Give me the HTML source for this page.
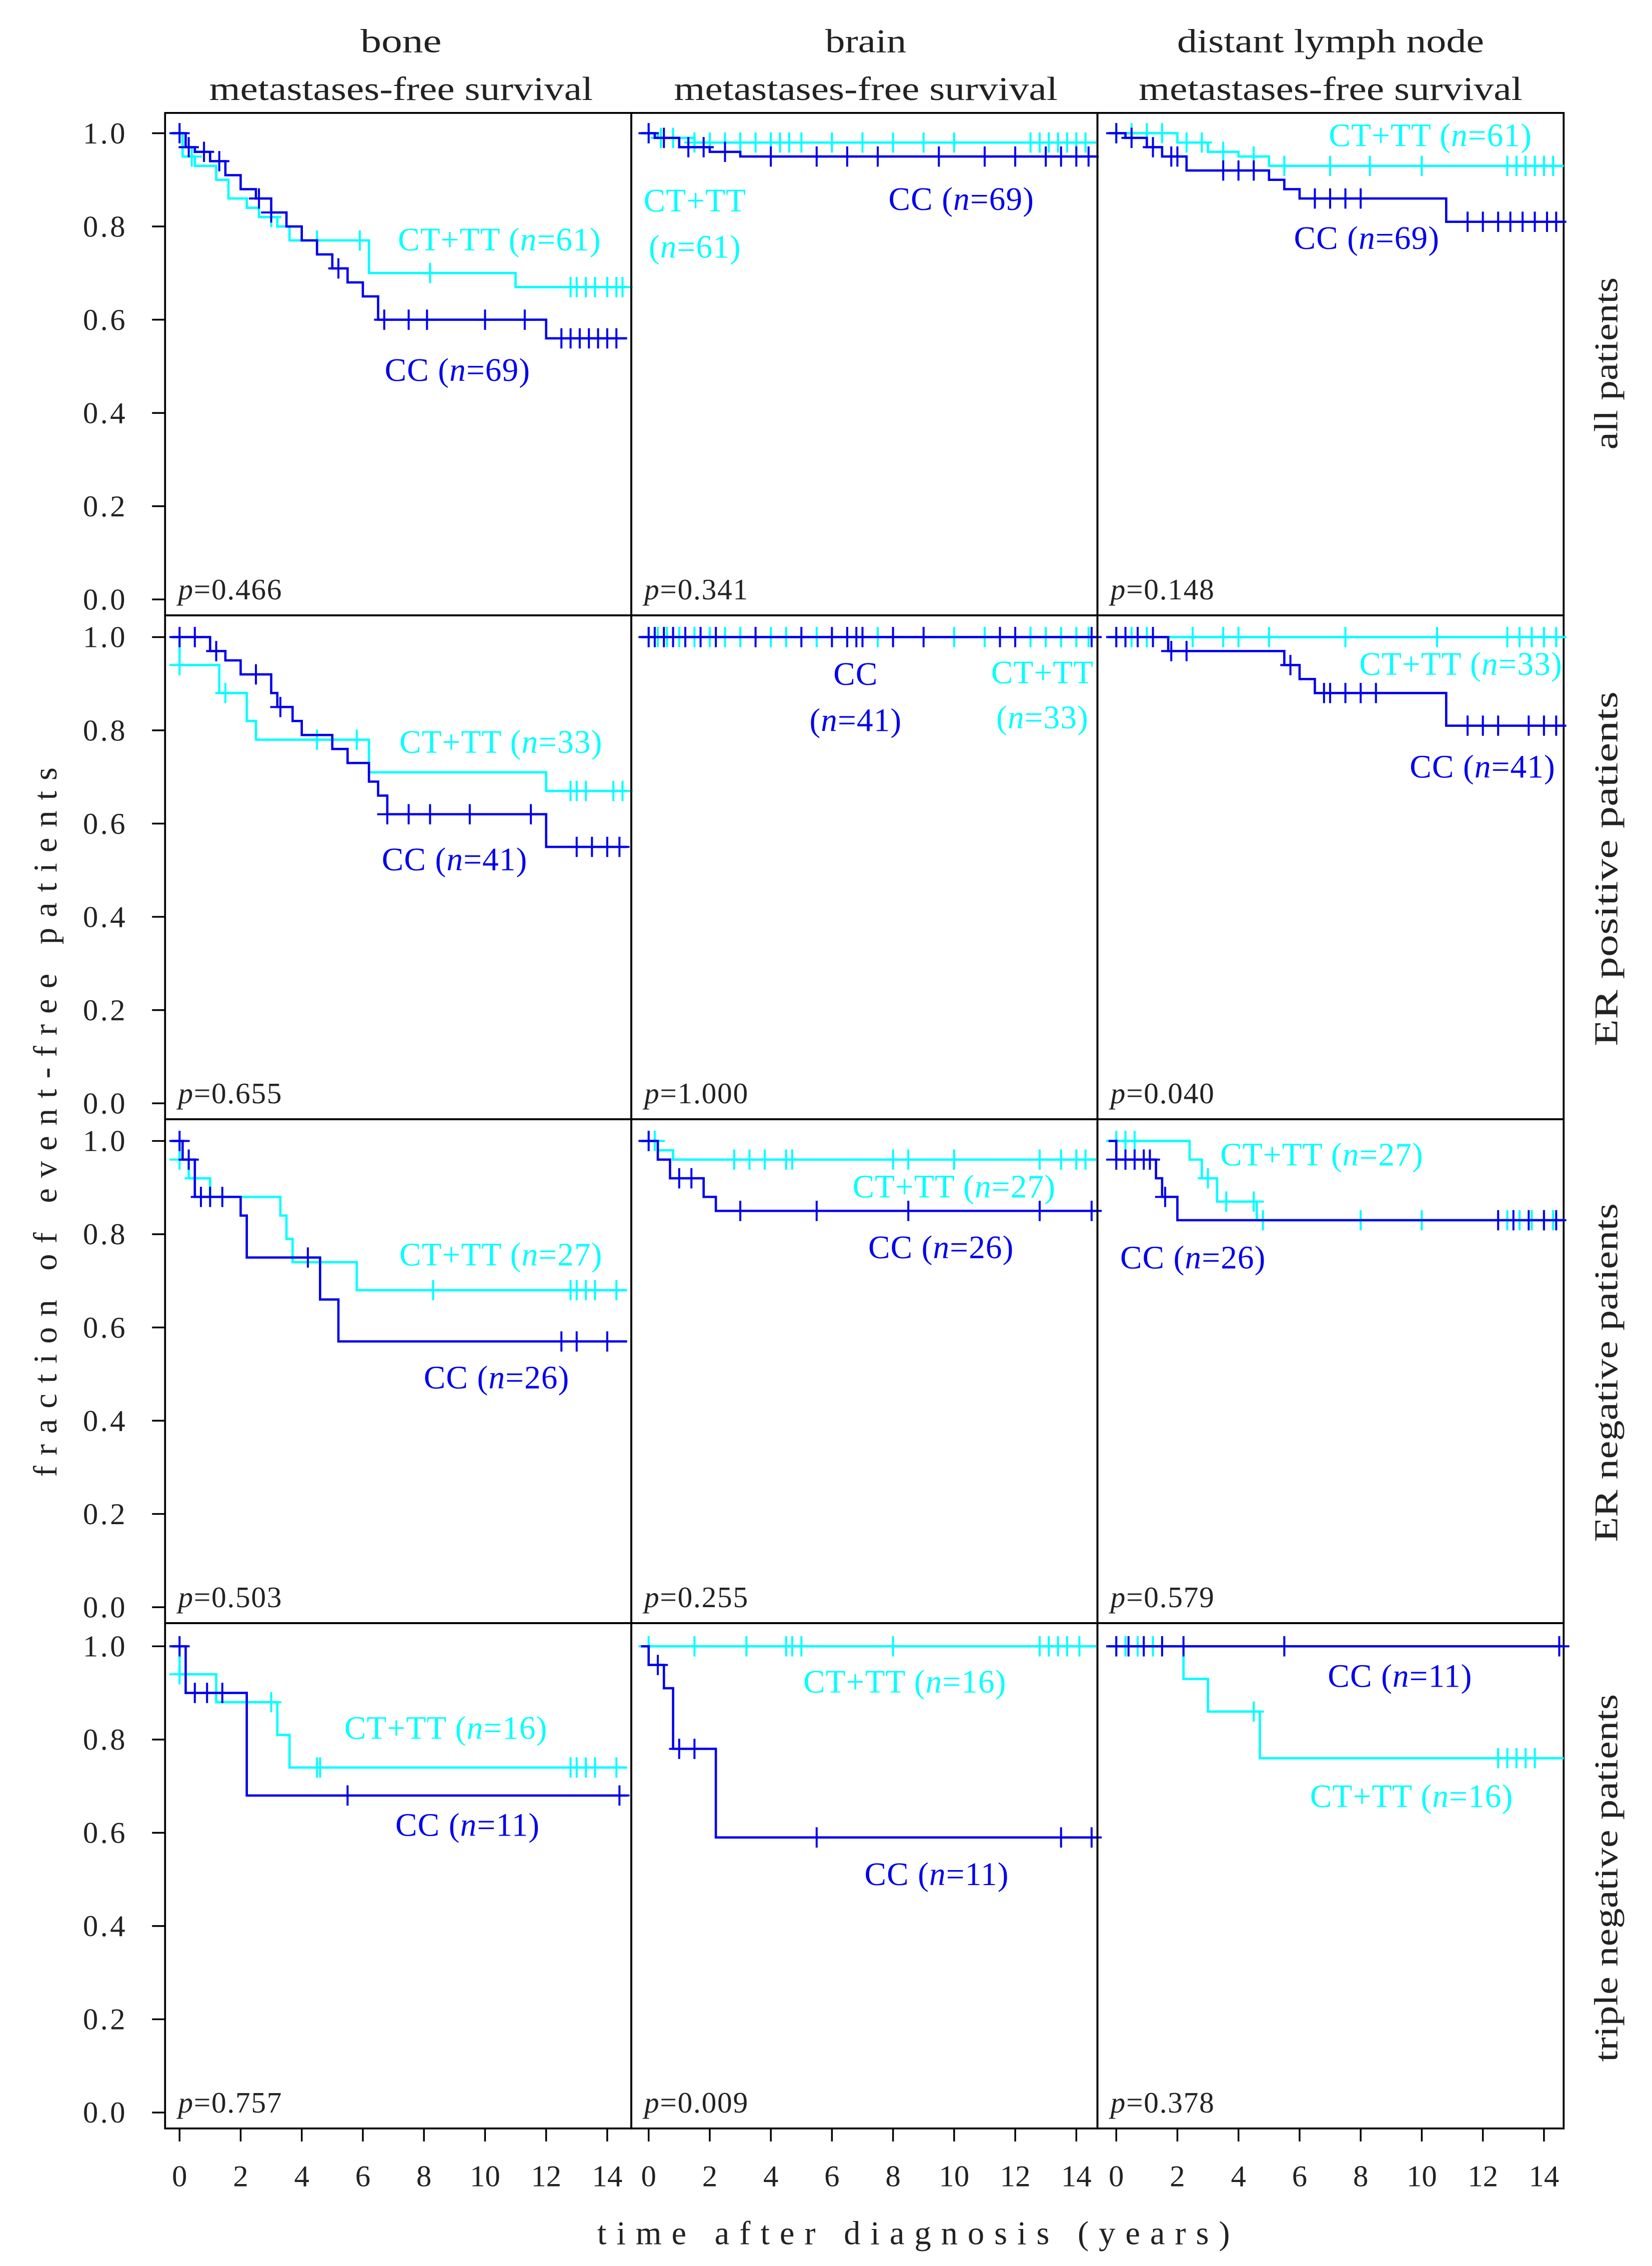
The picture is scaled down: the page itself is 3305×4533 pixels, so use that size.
<!DOCTYPE html>
<html><head><meta charset="utf-8"><style>html,body{margin:0;padding:0;background:#fff}svg{display:block}text{font-family:"Liberation Serif",serif;fill:#222}</style></head>
<body>
<svg id="fig" width="3305" height="4533" viewBox="0 0 1141 1565" xmlns="http://www.w3.org/2000/svg">
<g id="frame"></g>
</svg>
<script>
// ---- data: event times, survival after each event, censor times ----
const boneAllCtT=[0.1,0.5,1.2,1.6,2.2,2.6,3.2,3.6,6.2,11.0];
const boneAllCtV=[0.95,0.93,0.90,0.86,0.84,0.82,0.80,0.77,0.70,0.67];
const boneAllCtC=[0,0.4,3.0,4.5,5.9,8.2,12.8,13.0,13.3,13.6,14.0,14.3,14.5];
const boneAllCcT=[0.2,0.5,1.0,1.5,2.0,2.5,3.0,3.5,4.0,4.5,5.0,5.5,6.0,6.5,12.0];
const boneAllCcV=[0.97,0.96,0.94,0.91,0.88,0.86,0.83,0.80,0.77,0.74,0.71,0.68,0.65,0.60,0.56];
const boneAllCcC=[0,0.3,0.8,1.3,2.6,3.0,5.2,6.7,7.5,8.1,10.0,11.3,12.5,12.8,13.1,13.4,13.7,14.0,14.3];
const brainAllCtT=[0.3,1.5];
const brainAllCtV=[0.99,0.98];
const brainAllCtC=[0,0.4,0.8,1.5,2.0,2.5,3.0,3.5,4.0,4.3,4.6,5.0,6.0,7.0,8.0,9.0,10.0,12.5,12.8,13.1,13.4,13.7,14.0,14.3];
const brainAllCcT=[0.2,1.0,2.0,3.0];
const brainAllCcV=[0.99,0.97,0.96,0.95];
const brainAllCcC=[0,0.5,1.3,1.8,2.5,4.0,5.5,6.5,7.5,9.5,11.0,12.0,13.0,13.5,14.0,14.4];
const dlnAllCtT=[2.0,3.0,4.0,5.0];
const dlnAllCtV=[0.98,0.96,0.95,0.93];
const dlnAllCtC=[0,0.5,1.0,1.5,2.3,2.8,3.5,4.5,5.5,7.0,8.3,10.0,12.8,13.1,13.4,13.7,14.0,14.3];
const dlnAllCcT=[0.3,1.0,1.5,2.3,5.0,5.5,6.0,10.8];
const dlnAllCcV=[0.99,0.97,0.95,0.92,0.90,0.88,0.86,0.81];
const dlnAllCcC=[0,0.5,1.2,1.8,2.0,3.5,4.0,4.5,6.5,7.0,7.5,8.0,11.5,12.0,12.5,12.9,13.3,13.7,14.1,14.4];
const boneErpCtT=[0.0,1.3,2.2,2.5,6.2,12.0];
const boneErpCtV=[0.94,0.88,0.82,0.78,0.71,0.67];
const boneErpCtC=[0,1.5,4.5,5.8,12.8,13.0,13.3,14.2,14.5];
const boneErpCcT=[1.0,1.5,2.0,3.0,3.2,3.7,4.0,5.0,5.5,6.2,6.5,6.8,12.0];
const boneErpCcV=[0.97,0.95,0.92,0.88,0.85,0.82,0.79,0.76,0.73,0.69,0.66,0.62,0.55];
const boneErpCcC=[0,0.5,1.2,2.5,3.3,6.8,7.5,8.2,9.5,11.5,13.0,13.5,14.0,14.4];
const brainErpCtT=[];
const brainErpCtV=[];
const brainErpCtC=[0,0.3,0.6,1.0,1.5,2.0,2.5,3.0,4.0,4.5,5.5,6.5,7.5,10.0,11.0,12.5,13.0,13.5,14.0,14.4];
const brainErpCcT=[];
const brainErpCcV=[];
const brainErpCcC=[0,0.2,0.5,0.8,1.2,1.7,2.2,3.5,5.0,6.0,6.5,6.8,7.0,8.0,9.0,11.5,12.0,14.5];
const dlnErpCtT=[];
const dlnErpCtV=[];
const dlnErpCtC=[0,0.5,1.0,2.5,3.5,4.0,5.0,7.5,10.5,12.8,13.2,13.6,14.0,14.4];
const dlnErpCcT=[1.7,5.5,6.0,6.5,10.8];
const dlnErpCcV=[0.97,0.94,0.91,0.88,0.81];
const dlnErpCcC=[0,0.3,0.7,1.2,1.8,2.3,5.7,6.8,7.0,7.5,8.0,8.5,11.5,12.0,12.5,13.5,14.0,14.4];
const boneErnCtT=[0.0,0.3,1.0,3.3,3.5,3.7,5.8];
const boneErnCtV=[0.96,0.92,0.88,0.84,0.79,0.74,0.68];
const boneErnCtC=[0,0.5,8.3,12.8,13.0,13.3,13.6,14.3];
const boneErnCcT=[0.1,0.5,2.0,2.2,4.6,5.2];
const boneErnCcV=[0.96,0.88,0.84,0.75,0.66,0.57];
const boneErnCcC=[0,0.3,0.7,1.0,1.4,4.2,12.5,13.0,14.0];
const brainErnCtT=[0.3,0.8];
const brainErnCtV=[0.98,0.96];
const brainErnCtC=[0,0.2,2.8,3.3,3.8,4.5,4.7,8.0,8.5,10.0,12.8,13.5,14.0,14.3];
const brainErnCcT=[0.3,0.7,1.8,2.2];
const brainErnCcV=[0.96,0.92,0.88,0.85];
const brainErnCcC=[0,1.0,1.4,3.0,5.5,8.5,12.8,14.5];
const dlnErnCtT=[2.4,2.8,3.3,4.6];
const dlnErnCtV=[0.96,0.92,0.87,0.83];
const dlnErnCtC=[0,0.3,0.6,3.0,3.6,4.5,4.8,8.0,10.0,12.8,13.2,13.6,14.0,14.3];
const dlnErnCcT=[0.0,1.3,1.5,2.0];
const dlnErnCcV=[0.96,0.92,0.88,0.83];
const dlnErnCcC=[0,0.3,0.6,0.9,1.1,1.6,12.5,13.0,13.5,14.0,14.4];
const boneTnCtT=[0.0,1.2,3.2,3.6];
const boneTnCtV=[0.94,0.88,0.81,0.74];
const boneTnCtC=[0,3.0,4.5,4.6,12.8,13.0,13.3,13.6,14.3];
const boneTnCcT=[0.2,2.2];
const boneTnCcV=[0.90,0.68];
const boneTnCcC=[0,0.5,0.9,1.4,5.5,14.4];
const brainTnCtT=[];
const brainTnCtV=[];
const brainTnCtC=[0,1.5,3.2,4.5,4.7,5.0,8.0,12.8,13.1,13.4,13.7,14.1];
const brainTnCcT=[0.0,0.5,0.8,2.2];
const brainTnCcV=[0.96,0.91,0.78,0.59];
const brainTnCcC=[0.3,1.0,1.5,5.5,13.5,14.5];
const dlnTnCtT=[2.2,3.0,4.7];
const dlnTnCtV=[0.93,0.86,0.76];
const dlnTnCtC=[0,0.3,0.7,1.2,4.5,12.5,12.8,13.1,13.4,13.7];
const dlnTnCcT=[];
const dlnTnCcV=[];
const dlnTnCcC=[0,0.4,0.9,1.5,2.2,5.5,14.5];
const yTicks=[0,0.2,0.4,0.6,0.8,1.0];
const xTicks=[0,2,4,6,8,10,12,14];
const pValues=[["0.466","0.341","0.148"],["0.655","1.000","0.040"],["0.503","0.255","0.579"],["0.757","0.009","0.378"]];
const colTitles=["bone","brain","distant lymph node"];
const rowTitles=["all patients","ER positive patients","ER negative patients","triple negative patients"];

// ---- layout ----
const X0=[124,448,771], PX=[114,436,758], PW=322, Y1=[92,440,788,1137], PY=[78,425,773,1121], PH=[347,348,348,349];
const SX=21.1, SY=322, TMAX=14.65;
const xs=(c,t)=>X0[c]+t*SX;
const ys=(r,v)=>Y1[r]+(1-v)*SY;
const NS="http://www.w3.org/2000/svg";
const svg=document.getElementById('fig');
function mk(tag,attrs,parent){const e=document.createElementNS(NS,tag);for(const k in attrs)e.setAttribute(k,attrs[k]);(parent||svg).appendChild(e);return e;}
function txt(x,y,s,attrs){const e=mk('text',Object.assign({x:x,y:y},attrs||{}));e.innerHTML=s;return e;}
const CYAN="#00ffff", BLUE="#0000ee";
const curves=[
 [[boneAllCtT,boneAllCtV,boneAllCtC],[boneAllCcT,boneAllCcV,boneAllCcC],[brainAllCtT,brainAllCtV,brainAllCtC],[brainAllCcT,brainAllCcV,brainAllCcC],[dlnAllCtT,dlnAllCtV,dlnAllCtC],[dlnAllCcT,dlnAllCcV,dlnAllCcC]],
 [[boneErpCtT,boneErpCtV,boneErpCtC],[boneErpCcT,boneErpCcV,boneErpCcC],[brainErpCtT,brainErpCtV,brainErpCtC],[brainErpCcT,brainErpCcV,brainErpCcC],[dlnErpCtT,dlnErpCtV,dlnErpCtC],[dlnErpCcT,dlnErpCcV,dlnErpCcC]],
 [[boneErnCtT,boneErnCtV,boneErnCtC],[boneErnCcT,boneErnCcV,boneErnCcC],[brainErnCtT,brainErnCtV,brainErnCtC],[brainErnCcT,brainErnCcV,brainErnCcC],[dlnErnCtT,dlnErnCtV,dlnErnCtC],[dlnErnCcT,dlnErnCcV,dlnErnCcC]],
 [[boneTnCtT,boneTnCtV,boneTnCtC],[boneTnCcT,boneTnCcV,boneTnCcC],[brainTnCtT,brainTnCtV,brainTnCtC],[brainTnCcT,brainTnCcV,brainTnCcC],[dlnTnCtT,dlnTnCtV,dlnTnCtC],[dlnTnCcT,dlnTnCcV,dlnTnCcC]]];
function survAt(T,V,t){let s=1;for(let i=0;i<T.length;i++){if(T[i]<=t)s=V[i];}return s;}
function drawCurve(r,c,T,V,C,color,name){
  const g=mk('g',{});
  
  
  let d='M'+xs(c,-0.25)+' '+ys(r,1);
  for(let i=0;i<T.length;i++){d+=' H'+xs(c,T[i])+' V'+ys(r,V[i]);}
  d+=' H'+xs(c,TMAX);
  const p=mk('path',{d:d,fill:'none',stroke:color,'stroke-width':1.6},g);
  
  
  C.forEach(t=>{const x=xs(c,t),y=ys(r,survAt(T,V,t));
    const m=mk('path',{d:`M${x} ${y-7}V${y+7}M${x-7} ${y}H${x+7}`,stroke:color,'stroke-width':1.4},g);
    
    });
}
const keys=["bone","brain","dln"], rk=["all","erpos","erneg","tripleneg"];
for(let r=0;r<4;r++)for(let c=0;c<3;c++){
  const b=mk('rect',{x:PX[c],y:PY[r],width:PW,height:PH[r],fill:'none',stroke:'#000','stroke-width':1.3});
  
  
  const cc=curves[r][c*2], cb=curves[r][c*2+1];
  drawCurve(r,c,cc[0],cc[1],cc[2],CYAN,'ct-tt-curve-'+keys[c]+'-'+rk[r]);
  drawCurve(r,c,cb[0],cb[1],cb[2],BLUE,'cc-curve-'+keys[c]+'-'+rk[r]);
  const pv=txt(PX[c]+9,PY[r]+PH[r]-11,'<tspan font-style="italic">p</tspan>=<tspan>'+pValues[r][c]+'</tspan>',{'font-size':20.5,'letter-spacing':'0.6'});
  
  
}
// y axes
for(let r=0;r<4;r++)yTicks.forEach(v=>{const y=ys(r,v);
  const l=mk('line',{x1:105,x2:114,y1:y,y2:y,stroke:'#000','stroke-width':1.2});
  
  
  const t=txt(88,y+7,v.toFixed(1),{'font-size':21,'text-anchor':'end','letter-spacing':'1.5'});
  
  });
// x axes
for(let c=0;c<3;c++)xTicks.forEach(v=>{const x=xs(c,v);
  const l=mk('line',{x1:x,x2:x,y1:1470,y2:1479,stroke:'#000','stroke-width':1.2});
  
  
  const t=txt(x,1510,String(v),{'font-size':21,'text-anchor':'middle'});
  
  });
// titles
const ccx=[277,598,919];
const colW=[56,56,212];
colTitles.forEach((s,c)=>{
  const a=txt(ccx[c],36,s,{'font-size':23,'text-anchor':'middle',textLength:colW[c],lengthAdjust:'spacingAndGlyphs'});
  
  
  const b=txt(ccx[c],69,'metastases-free survival',{'font-size':23,'text-anchor':'middle',textLength:265,lengthAdjust:'spacingAndGlyphs'});
  
  });
const rcy=[251,600,948,1297];
const rowW=[119,245,234,254];
rowTitles.forEach((s,r)=>{
  const a=txt(0,0,s,{'font-size':23,'text-anchor':'middle',textLength:rowW[r],lengthAdjust:'spacingAndGlyphs',transform:`translate(1117,${rcy[r]}) rotate(-90)`});
  
  });
const yt=txt(0,0,'fraction of event-free patients',{'font-size':23,'text-anchor':'middle',textLength:490,lengthAdjust:'spacing',transform:'translate(39,775) rotate(-90)'});


const xt=txt(631,1550,'time after diagnosis (years)',{'font-size':23,'text-anchor':'middle',textLength:437,lengthAdjust:'spacing'});


// legend labels
const labels=[
 [345,173,'CT+TT (<tspan font-style="italic">n</tspan>=61)',CYAN],[316,263,'CC (<tspan font-style="italic">n</tspan>=69)',BLUE],
 [480,146,'CT+TT',CYAN],[480,178,'(<tspan font-style="italic">n</tspan>=61)',CYAN],[664,145,'CC (<tspan font-style="italic">n</tspan>=69)',BLUE],
 [988,101,'CT+TT (<tspan font-style="italic">n</tspan>=61)',CYAN],[944,172,'CC (<tspan font-style="italic">n</tspan>=69)',BLUE],
 [346,520,'CT+TT (<tspan font-style="italic">n</tspan>=33)',CYAN],[314,601,'CC (<tspan font-style="italic">n</tspan>=41)',BLUE],
 [591,473,'CC',BLUE],[591,505,'(<tspan font-style="italic">n</tspan>=41)',BLUE],[720,472,'CT+TT',CYAN],[720,503,'(<tspan font-style="italic">n</tspan>=33)',CYAN],
 [1009,466,'CT+TT (<tspan font-style="italic">n</tspan>=33)',CYAN],[1024,537,'CC (<tspan font-style="italic">n</tspan>=41)',BLUE],
 [346,874,'CT+TT (<tspan font-style="italic">n</tspan>=27)',CYAN],[343,959,'CC (<tspan font-style="italic">n</tspan>=26)',BLUE],
 [659,827,'CT+TT (<tspan font-style="italic">n</tspan>=27)',CYAN],[650,869,'CC (<tspan font-style="italic">n</tspan>=26)',BLUE],
 [913,805,'CT+TT (<tspan font-style="italic">n</tspan>=27)',CYAN],[824,876,'CC (<tspan font-style="italic">n</tspan>=26)',BLUE],
 [308,1201,'CT+TT (<tspan font-style="italic">n</tspan>=16)',CYAN],[323,1268,'CC (<tspan font-style="italic">n</tspan>=11)',BLUE],
 [625,1169,'CT+TT (<tspan font-style="italic">n</tspan>=16)',CYAN],[647,1302,'CC (<tspan font-style="italic">n</tspan>=11)',BLUE],
 [967,1165,'CC (<tspan font-style="italic">n</tspan>=11)',BLUE],[975,1248,'CT+TT (<tspan font-style="italic">n</tspan>=16)',CYAN]];
labels.forEach(L=>{const t=txt(L[0],L[1],L[2],{'font-size':22.5,'text-anchor':'middle','letter-spacing':'0.4',style:'fill:'+L[3]});
  
  });
</script>
</body></html>
